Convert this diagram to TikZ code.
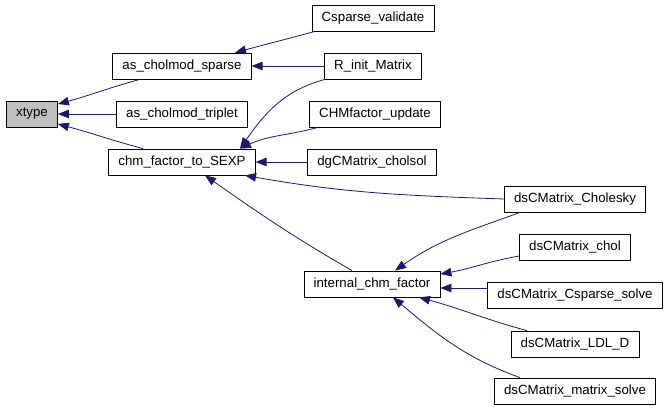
\documentclass[tikz,border=0pt]{standalone}
\usepackage{fontspec}
\setmainfont{Liberation Sans}
\usetikzlibrary{arrows.meta}
\definecolor{bleuarc}{HTML}{191970}
\definecolor{grisfond}{HTML}{BFBFBF}
\tikzset{
  fonction/.style={draw, fill=white, line width=0.8pt, minimum height=26pt,
    inner xsep=9.6pt, inner ysep=2pt, font=\fontsize{13.3}{16}\selectfont},
  appel/.style={draw=bleuarc, line width=0.8pt, -{Triangle[length=11pt,width=8.5pt]}, bleuarc}
}
\begin{document}
\begin{tikzpicture}[x=1pt,y=1pt]
        \useasboundingbox (0,0) rectangle (667,-408);

        % Fonction appelée
        \node[fonction, fill=grisfond] (xt) at (32,-114) {xtype};

        % Premier niveau
        \node[fonction] (acs) at (182,-66) {as\_cholmod\_sparse};
        \node[fonction] (act) at (182,-114) {as\_cholmod\_triplet};
        \node[fonction] (chm) at (182,-162) {chm\_factor\_to\_SEXP};

        % Deuxième niveau
        \node[fonction] (csv) at (373,-18) {Csparse\_validate};
        \node[fonction] (rim) at (373,-66) {R\_init\_Matrix};
        \node[fonction] (chu) at (375,-114) {CHMfactor\_update};
        \node[fonction] (dgc) at (372,-162) {dgCMatrix\_cholsol};
        \node[fonction] (icf) at (372,-284) {internal\_chm\_factor};

        % Troisième niveau
        \node[fonction] (dsc) at (575,-199) {dsCMatrix\_Cholesky};
        \node[fonction] (dch) at (575,-247) {dsCMatrix\_chol};
        \node[fonction] (dcs) at (575,-295) {dsCMatrix\_Csparse\_solve};
        \node[fonction] (dld) at (575,-344) {dsCMatrix\_LDL\_D};
        \node[fonction] (dms) at (575,-391) {dsCMatrix\_matrix\_solve};

        % Appels vers xtype
        \draw[appel] ([xshift=-42pt]acs.south) to[out=195,in=15] ([yshift=10pt]xt.east);
        \draw[appel] (act.west) -- (xt.east);
        \draw[appel] ([xshift=-39pt]chm.north) to[out=165,in=-15] ([yshift=-10pt]xt.east);

        % Appels vers as_cholmod_sparse
        \draw[appel] ([xshift=-58pt]csv.south) to[out=195,in=15] ([xshift=53pt]acs.north);
        \draw[appel] (rim.west) -- (acs.east);

        % Appels vers chm_factor_to_SEXP
        \draw[appel] ([xshift=-48pt]rim.south) to[out=195,in=55] ([xshift=58pt]chm.north);
        \draw[appel] ([xshift=-57pt]chu.south) to[out=195,in=25] ([xshift=58pt]chm.north);
        \draw[appel] (dgc.west) -- (chm.east);
        \draw[appel] (dsc.west) to[out=178,in=-10] ([xshift=63pt]chm.south);
        \draw[appel] ([xshift=-20pt]icf.north) to[out=150,in=-35] ([xshift=23pt]chm.south);

        % Appels vers internal_chm_factor
        \draw[appel] ([xshift=-55pt]dsc.south) to[out=200,in=35] ([xshift=23pt]icf.north);
        \draw[appel] ([yshift=-9pt]dch.west) to[out=190,in=10] ([yshift=10pt]icf.east);
        \draw[appel] ([yshift=7pt]dcs.west) -- ([yshift=-4pt]icf.east);
        \draw[appel] ([xshift=-48pt]dld.north) to[out=165,in=-15] ([xshift=47pt]icf.south);
        \draw[appel] ([xshift=-55pt]dms.north) to[out=160,in=-40] ([xshift=21pt]icf.south);
\end{tikzpicture}
\end{document}
